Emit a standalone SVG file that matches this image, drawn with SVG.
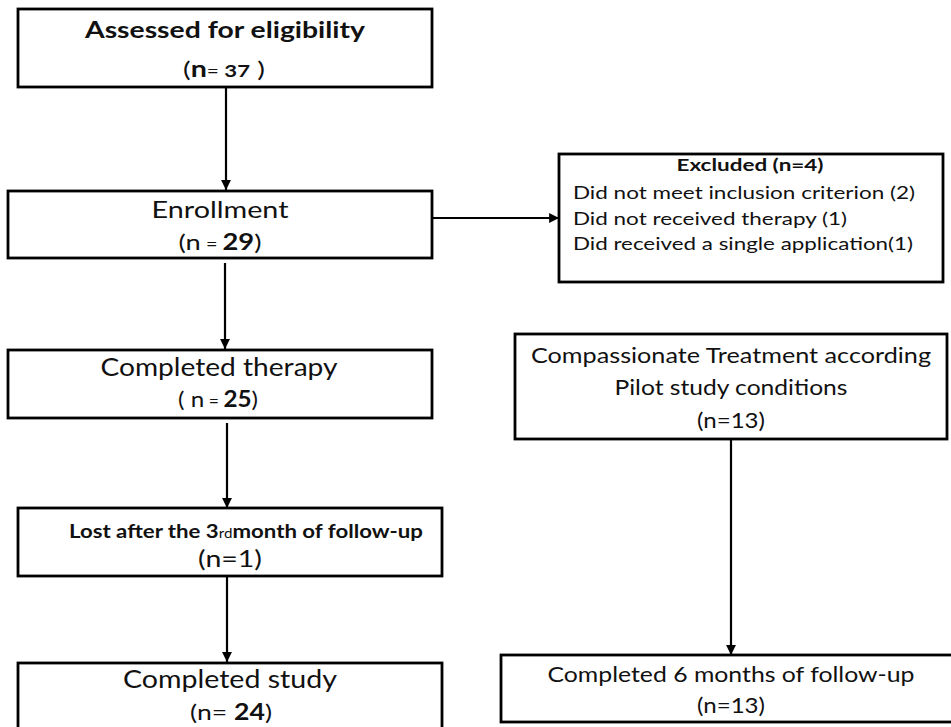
<svg xmlns="http://www.w3.org/2000/svg" width="951" height="727" viewBox="0 0 951 727">
<style>
.box{fill:#fff;stroke:#000;stroke-width:2.8}
.t{font-family:Lato,"Open Sans","Liberation Sans",sans-serif;fill:#111}
.b{font-weight:bold}
.edge{stroke:#000;stroke-width:2.2;fill:none}
</style>
<defs>
<marker id="arr" viewBox="0 0 10 10" refX="10" refY="5" markerWidth="4.5" markerHeight="4.5" orient="auto" markerUnits="strokeWidth">
<path d="M0,0 L10,5 L0,10 z" fill="#000"/>
</marker>
</defs>
<rect width="951" height="727" fill="#fff"/>
<g id="connectors">
<line class="edge" x1="226" y1="88" x2="226" y2="190" marker-end="url(#arr)"/>
<line class="edge" x1="225" y1="263" x2="225" y2="349" marker-end="url(#arr)"/>
<line class="edge" x1="227" y1="423" x2="227" y2="508" marker-end="url(#arr)"/>
<line class="edge" x1="227" y1="572" x2="227" y2="662" marker-end="url(#arr)"/>
<line class="edge" x1="432" y1="218" x2="559" y2="218" marker-end="url(#arr)"/>
<line class="edge" x1="731" y1="439" x2="731" y2="655" marker-end="url(#arr)"/>
</g>
<g id="assessed">
<rect class="box" x="18" y="9" width="414" height="78"/>
<text class="t b" x="225" y="38" font-size="23" text-anchor="middle" textLength="280" lengthAdjust="spacingAndGlyphs">Assessed for eligibility</text>
<text class="t" x="224" y="77" font-size="22" text-anchor="middle" textLength="82" lengthAdjust="spacingAndGlyphs">(<tspan class="b">n</tspan><tspan font-size="16">= </tspan><tspan class="b" font-size="17">37</tspan> )</text>
</g>
<g id="enrollment">
<rect class="box" x="8" y="191" width="424" height="67"/>
<text class="t" x="220" y="218" font-size="24" text-anchor="middle" textLength="137" lengthAdjust="spacingAndGlyphs">Enrollment</text>
<text class="t" x="220" y="250" font-size="22" text-anchor="middle" textLength="83" lengthAdjust="spacingAndGlyphs">(n<tspan font-size="16"> = </tspan><tspan class="b">29</tspan>)</text>
</g>
<g id="excluded">
<rect class="box" x="559" y="154" width="384" height="128"/>
<text class="t b" x="750" y="171" font-size="17" text-anchor="middle" textLength="147" lengthAdjust="spacingAndGlyphs">Excluded  (n=4)</text>
<text class="t" x="573" y="199" font-size="18" textLength="342" lengthAdjust="spacingAndGlyphs">Did not meet inclusion criterion (2)</text>
<text class="t" x="573" y="225" font-size="18" textLength="274" lengthAdjust="spacingAndGlyphs">Did not received  therapy (1)</text>
<text class="t" x="573" y="250" font-size="18" textLength="340" lengthAdjust="spacingAndGlyphs">Did received  a single application(1)</text>
</g>
<g id="completed-therapy">
<rect class="box" x="8" y="350" width="424" height="68"/>
<text class="t" x="219" y="376" font-size="25" text-anchor="middle" textLength="237" lengthAdjust="spacingAndGlyphs">Completed therapy</text>
<text class="t" x="218" y="407" font-size="22" text-anchor="middle" textLength="80" lengthAdjust="spacingAndGlyphs">( n<tspan font-size="16"> = </tspan><tspan class="b">25</tspan>)</text>
</g>
<g id="compassionate">
<rect class="box" x="515" y="334" width="432" height="105"/>
<text class="t" x="731" y="363" font-size="21" text-anchor="middle" textLength="400" lengthAdjust="spacingAndGlyphs">Compassionate  Treatment according</text>
<text class="t" x="731" y="395" font-size="21" text-anchor="middle" textLength="233" lengthAdjust="spacingAndGlyphs">Pilot study conditions</text>
<text class="t" x="731" y="428" font-size="21" text-anchor="middle" textLength="68" lengthAdjust="spacingAndGlyphs">(n=13)</text>
</g>
<g id="lost">
<rect class="box" x="18" y="508" width="424" height="68"/>
<text class="t b" x="246" y="538" font-size="19" text-anchor="middle" textLength="354" lengthAdjust="spacingAndGlyphs">Lost after the 3<tspan font-size="13" font-weight="normal">rd</tspan>month of follow-up</text>
<text class="t" x="230" y="567" font-size="23" text-anchor="middle" textLength="64" lengthAdjust="spacingAndGlyphs">(n=1)</text>
</g>
<g id="completed-study">
<rect class="box" x="18" y="663" width="424" height="80"/>
<text class="t" x="230" y="688" font-size="25" text-anchor="middle" textLength="214" lengthAdjust="spacingAndGlyphs">Completed study</text>
<text class="t" x="231" y="720" font-size="22" text-anchor="middle" textLength="82" lengthAdjust="spacingAndGlyphs">(n=  <tspan class="b">24</tspan>)</text>
</g>
<g id="completed-6-months">
<rect class="box" x="501" y="655" width="460" height="67"/>
<text class="t" x="731" y="682" font-size="21" text-anchor="middle" textLength="367" lengthAdjust="spacingAndGlyphs">Completed 6 months of follow-up</text>
<text class="t" x="731" y="713" font-size="21" text-anchor="middle" textLength="68" lengthAdjust="spacingAndGlyphs">(n=13)</text>
</g>
</svg>
